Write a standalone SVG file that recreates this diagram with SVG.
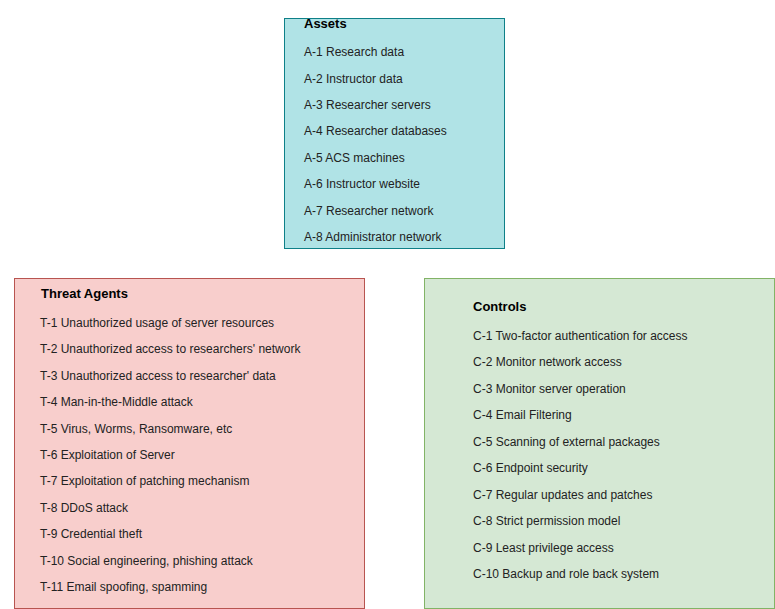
<svg xmlns="http://www.w3.org/2000/svg" width="775" height="609" viewBox="0 0 775 609">
<style>
.t{font-family:"Liberation Sans",Arial,sans-serif;font-size:12px;fill:#222}
.h{font-family:"Liberation Sans",Arial,sans-serif;font-size:13px;font-weight:bold;fill:#000}
</style>
<rect width="775" height="609" fill="#fff"/>
<g id="assets">
<rect x="284.5" y="18.5" width="220" height="230" fill="#b0e3e6" stroke="#0e8088"/>
<text class="h" x="304" y="27.5">Assets</text>
<text class="t" x="304" y="56">A-1 Research data</text>
<text class="t" x="304" y="82.5">A-2 Instructor data</text>
<text class="t" x="304" y="109">A-3 Researcher servers</text>
<text class="t" x="304" y="135.4">A-4 Researcher databases</text>
<text class="t" x="304" y="161.8">A-5 ACS machines</text>
<text class="t" x="304" y="188.2">A-6 Instructor website</text>
<text class="t" x="304" y="214.6">A-7 Researcher network</text>
<text class="t" x="304" y="241">A-8 Administrator network</text>
</g>
<g id="threats">
<rect x="14.5" y="278.5" width="350" height="330" fill="#f8cecc" stroke="#b85450"/>
<text class="h" x="41" y="297.5">Threat Agents</text>
<text class="t" x="40" y="327">T-1 Unauthorized usage of server resources</text>
<text class="t" x="40" y="353.4">T-2 Unauthorized access to researchers' network</text>
<text class="t" x="40" y="379.8">T-3 Unauthorized access to researcher' data</text>
<text class="t" x="40" y="406.2">T-4 Man-in-the-Middle attack</text>
<text class="t" x="40" y="432.6">T-5 Virus, Worms, Ransomware, etc</text>
<text class="t" x="40" y="459">T-6 Exploitation of Server</text>
<text class="t" x="40" y="485.4">T-7 Exploitation of patching mechanism</text>
<text class="t" x="40" y="511.8">T-8 DDoS attack</text>
<text class="t" x="40" y="538.2">T-9 Credential theft</text>
<text class="t" x="40" y="564.6">T-10 Social engineering, phishing attack</text>
<text class="t" x="40" y="591">T-11 Email spoofing, spamming</text>
</g>
<g id="controls">
<rect x="424.5" y="278.5" width="350" height="330" fill="#d5e8d4" stroke="#82b366"/>
<text class="h" x="473" y="310.5">Controls</text>
<text class="t" x="473" y="340">C-1 Two-factor authentication for access</text>
<text class="t" x="473" y="366.4">C-2 Monitor network access</text>
<text class="t" x="473" y="392.9">C-3 Monitor server operation</text>
<text class="t" x="473" y="419.3">C-4 Email Filtering</text>
<text class="t" x="473" y="445.8">C-5 Scanning of external packages</text>
<text class="t" x="473" y="472.2">C-6 Endpoint security</text>
<text class="t" x="473" y="498.6">C-7 Regular updates and patches</text>
<text class="t" x="473" y="525.1">C-8 Strict permission model</text>
<text class="t" x="473" y="551.5">C-9 Least privilege access</text>
<text class="t" x="473" y="578">C-10 Backup and role back system</text>
</g>
<g id="connectors"/>
</svg>
